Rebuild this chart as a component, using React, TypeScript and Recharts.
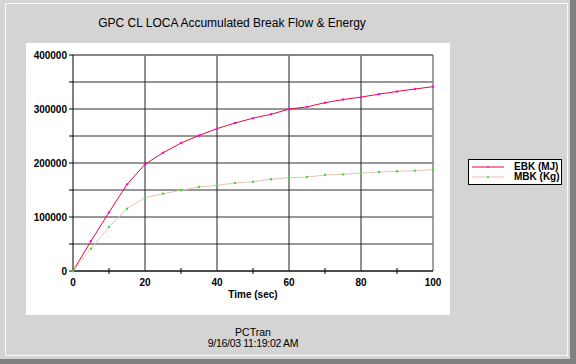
import React from 'react';
import { LineChart, Line, XAxis, YAxis, CartesianGrid, ReferenceLine, Legend } from 'recharts';

const times = [0, 5, 10, 15, 20, 25, 30, 35, 40, 45, 50, 55, 60, 65, 70, 75, 80, 85, 90, 95, 100];
const ebk = [0, 55600, 108600, 160500, 197500, 219000, 237000, 251000, 263600, 274000, 283000, 290200, 299700, 304000, 311700, 317500, 322000, 327500, 332500, 337000, 341400];
const mbk = [0, 41400, 81500, 115400, 135800, 143200, 149400, 155600, 158600, 163000, 165400, 169800, 172800, 174000, 177800, 179000, 181500, 183300, 184600, 185800, 187600];
const xTicks = [0, 10, 20, 30, 40, 50, 60, 70, 80, 90, 100];
const xGrid = [20, 40, 60, 80];
const yTicks = [0, 50000, 100000, 150000, 200000, 250000, 300000, 350000, 400000];

const data = times.map((t, i) => ({ t, EBK: ebk[i], MBK: mbk[i] }));

const FONT = '"Liberation Sans", Arial, sans-serif';

const series = [
  { key: 'EBK', name: 'EBK (MJ)', line: '#e4083a', dot: '#ff00ff' },
  { key: 'MBK', name: 'MBK (Kg)', line: '#e8c4b4', dot: '#33dd33' },
];

const XTick = ({ x, y, payload }: any) => {
  if (payload.value % 20 !== 0) {
    return <line x1={x} x2={x} y1={y - 3} y2={y + 3} stroke="#000" />;
  }
  return (
    <text x={x} y={y + 15} textAnchor="middle" fontSize={10} fontWeight="bold" fontFamily={FONT} fill="#000">
      {payload.value}
    </text>
  );
};

const LegendBox = () => (
  <div style={{ border: '1px solid #000', background: '#fff', padding: '2px 3px', boxSizing: 'border-box', width: 94, height: 26 }}>
    {series.map((s) => (
      <div key={s.key} style={{ display: 'flex', alignItems: 'center', height: 10, whiteSpace: 'nowrap' }}>
        <svg width={32} height={10} style={{ flex: 'none' }}>
          <line x1={0} x2={32} y1={5} y2={5} stroke={s.line} />
          <circle cx={16} cy={5} r={1} fill={s.dot} />
        </svg>
        <span style={{ marginLeft: 10, fontFamily: FONT, fontSize: 10, lineHeight: '10px', fontWeight: 'bold', color: '#000' }}>{s.name}</span>
      </div>
    ))}
  </div>
);

export default function App() {
  return (
    <div style={{ position: 'fixed', left: 0, top: 0, width: 576, height: 364, background: '#d4d4d4', overflow: 'hidden' }}>
      <div style={{ position: 'absolute', left: 5, top: 3, width: 563, height: 353, border: '1px solid #fafafa', boxSizing: 'border-box' }} />
      <div style={{ position: 'absolute', left: 570, top: 0, width: 6, height: 364, background: '#808080' }} />
      <div style={{ position: 'absolute', left: 0, top: 359, width: 576, height: 5, background: '#808080' }} />
      <div style={{ position: 'absolute', left: 26, top: 43, width: 424, height: 272, background: '#fff' }} />
      <div style={{ position: 'absolute', left: 0, width: 464, top: 16, textAlign: 'center', fontFamily: FONT, fontSize: 12, color: '#000' }}>
        GPC CL LOCA Accumulated Break Flow &amp; Energy
      </div>
      <div style={{ position: 'absolute', left: 0, width: 506, top: 289, textAlign: 'center', fontFamily: FONT, fontSize: 10, fontWeight: 'bold', color: '#000' }}>
        Time (sec)
      </div>
      <div style={{ position: 'absolute', left: 0, width: 506, top: 327, textAlign: 'center', fontFamily: FONT, fontSize: 10.5, lineHeight: '11px', color: '#000' }}>
        <div>PCTran</div>
        <div style={{ letterSpacing: -0.3 }}>9/16/03 11:19:02 AM</div>
      </div>
      <div style={{ position: 'absolute', left: 0, top: 0 }}>
        <LineChart width={576} height={364} data={data} margin={{ top: 55, right: 143, bottom: 63, left: 23 }}>
          <CartesianGrid vertical={false} stroke="#303030" strokeDasharray="" />
          {xGrid.map((v) => (
            <ReferenceLine key={v} x={v} stroke="#202020" />
          ))}
          <ReferenceLine x={100} stroke="#808080" strokeWidth={1.5} />
          <ReferenceLine y={400000} stroke="#808080" strokeWidth={1.5} />
          <XAxis
            dataKey="t"
            type="number"
            domain={[0, 100]}
            ticks={xTicks}
            interval={0}
            height={30}
            tickSize={0}
            tickMargin={0}
            tickLine={false}
            axisLine={{ stroke: '#000' }}
            tick={<XTick />}
          />
          <YAxis
            type="number"
            domain={[0, 400000]}
            ticks={yTicks}
            interval={0}
            width={50}
            tickSize={4}
            tickMargin={2}
            axisLine={{ stroke: '#000' }}
            tickLine={{ stroke: '#000' }}
            tick={{ fontSize: 10, fontWeight: 'bold', fontFamily: FONT, fill: '#000' }}
            tickFormatter={(v: number) => (v % 100000 === 0 ? String(v) : '')}
          />
          {series.map((s) => (
            <Line
              key={s.key}
              dataKey={s.key}
              name={s.name}
              type="linear"
              stroke={s.line}
              strokeWidth={1}
              dot={{ r: 1.2, fill: s.dot, stroke: 'none' }}
              activeDot={false}
              isAnimationActive={false}
            />
          ))}
          <Legend
            layout="vertical"
            align="center"
            verticalAlign="middle"
            content={<LegendBox />}
            wrapperStyle={{ position: 'absolute', left: 468, top: 159, width: 94, height: 26 }}
          />
        </LineChart>
      </div>
    </div>
  );
}
